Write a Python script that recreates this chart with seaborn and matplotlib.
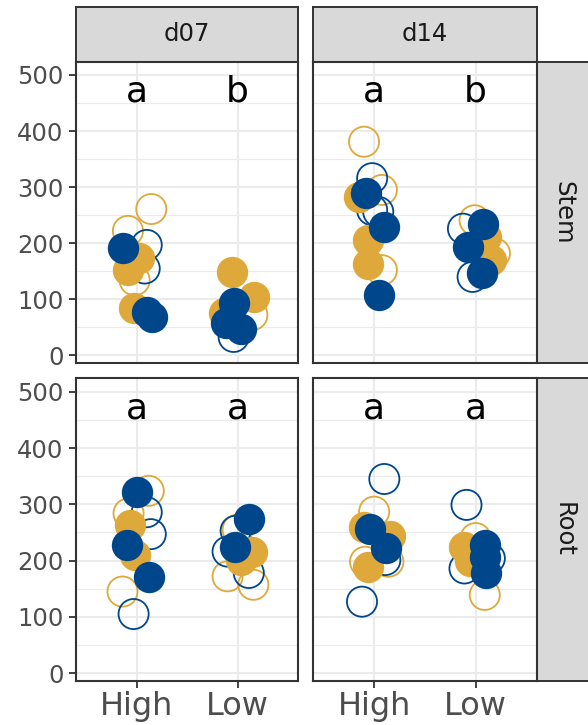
import matplotlib
matplotlib.use("Agg")
import matplotlib.pyplot as plt
from matplotlib.ticker import MultipleLocator
import pandas as pd
import seaborn as sns

sns.set_theme(style="white")
plt.rcParams["font.family"] = ["DejaVu Sans"]

days = ["d07", "d14"]
tissues = ["Stem", "Root"]
levels = ["High", "Low"]

# Each observation: (level, strain, condition, value, jitter)
stem_d07 = [
    ("High", "S1", "T", 261, 0.145), ("High", "S1", "T", 222, -0.086),
    ("High", "S1", "T", 134, -0.02),
    ("High", "S2", "T", 197, 0.10), ("High", "S2", "T", 155, 0.08),
    ("High", "S1", "C", 173, 0.02), ("High", "S1", "C", 153, -0.086),
    ("High", "S1", "C", 84, -0.03),
    ("High", "S2", "C", 191, -0.13), ("High", "S2", "C", 78, 0.106),
    ("High", "S2", "C", 69, 0.155),
    ("Low", "S1", "T", 72, 0.145), ("Low", "S2", "T", 33, -0.04),
    ("Low", "S1", "C", 148, -0.06), ("Low", "S1", "C", 104, 0.16),
    ("Low", "S1", "C", 75, -0.14),
    ("Low", "S2", "C", 93, -0.04), ("Low", "S2", "C", 57, -0.12),
    ("Low", "S2", "C", 48, 0.03),
]
stem_d14 = [
    ("High", "S1", "T", 381, -0.10), ("High", "S1", "T", 295, 0.076),
    ("High", "S1", "T", 152, 0.076),
    ("High", "S2", "T", 316, -0.02), ("High", "S2", "T", 259, -0.02),
    ("High", "S2", "T", 256, 0.04),
    ("High", "S1", "C", 283, -0.145), ("High", "S1", "C", 206, -0.06),
    ("High", "S1", "C", 163, -0.06),
    ("High", "S2", "C", 289, -0.08), ("High", "S2", "C", 229, 0.10),
    ("High", "S2", "C", 108, 0.05),
    ("Low", "S1", "T", 241, -0.01), ("Low", "S1", "T", 182, 0.19),
    ("Low", "S2", "T", 226, -0.125), ("Low", "S2", "T", 140, -0.03),
    ("Low", "S1", "C", 211, 0.10), ("Low", "S1", "C", 170, 0.15),
    ("Low", "S2", "C", 234, 0.07), ("Low", "S2", "C", 194, -0.08),
    ("Low", "S2", "C", 147, 0.06),
]
root_d07 = [
    ("High", "S1", "T", 324, 0.12), ("High", "S1", "T", 284, -0.08),
    ("High", "S1", "T", 145, -0.14),
    ("High", "S2", "T", 286, 0.10), ("High", "S2", "T", 247, 0.14),
    ("High", "S2", "T", 105, -0.03),
    ("High", "S1", "C", 263, -0.066), ("High", "S1", "C", 210, -0.02),
    ("High", "S2", "C", 322, 0.007), ("High", "S2", "C", 228, -0.10),
    ("High", "S2", "C", 170, 0.12),
    ("Low", "S1", "T", 255, 0.0), ("Low", "S1", "T", 172, -0.10),
    ("Low", "S1", "T", 157, 0.155),
    ("Low", "S2", "T", 253, -0.02), ("Low", "S2", "T", 216, -0.10),
    ("Low", "S2", "T", 178, 0.11),
    ("Low", "S1", "C", 216, 0.145), ("Low", "S1", "C", 201, 0.03),
    ("Low", "S2", "C", 274, 0.11), ("Low", "S2", "C", 224, -0.025),
]
root_d14 = [
    ("High", "S1", "T", 287, 0.0), ("High", "S1", "T", 198, 0.14),
    ("High", "S1", "T", 198, -0.09),
    ("High", "S2", "T", 345, 0.10), ("High", "S2", "T", 201, 0.11),
    ("High", "S2", "T", 127, -0.12),
    ("High", "S1", "C", 260, -0.10), ("High", "S1", "C", 243, 0.16),
    ("High", "S1", "C", 189, -0.056),
    ("High", "S2", "C", 257, -0.04), ("High", "S2", "C", 222, 0.12),
    ("Low", "S1", "T", 240, 0.0), ("Low", "S1", "T", 139, 0.09),
    ("Low", "S2", "T", 299, -0.09), ("Low", "S2", "T", 204, 0.14),
    ("Low", "S2", "T", 186, -0.11),
    ("Low", "S1", "C", 225, -0.11), ("Low", "S1", "C", 200, -0.06),
    ("Low", "S2", "C", 228, 0.09), ("Low", "S2", "C", 207, 0.09),
    ("Low", "S2", "C", 178, 0.10),
]

# Compact letter display per panel (High, Low)
letters_stem_d07 = ["a", "b"]
letters_stem_d14 = ["a", "b"]
letters_root_d07 = ["a", "a"]
letters_root_d14 = ["a", "a"]

panels = {
    ("Stem", "d07"): (stem_d07, letters_stem_d07),
    ("Stem", "d14"): (stem_d14, letters_stem_d14),
    ("Root", "d07"): (root_d07, letters_root_d07),
    ("Root", "d14"): (root_d14, letters_root_d14),
}

rows = []
for (tissue, day), (obs, _) in panels.items():
    for level, strain, cond, value, jit in obs:
        rows.append(dict(tissue=tissue, day=day, level=level, strain=strain,
                         cond=cond, value=value, jitter=jit))
df = pd.DataFrame(rows)
df["xpos"] = df["level"].map({l: i for i, l in enumerate(levels)}) + df["jitter"]

strain_colors = {"S1": "#DFA83A", "S2": "#00468B"}
draw_order = [("S1", "T"), ("S2", "T"), ("S1", "C"), ("S2", "C")]

W, H = 588, 725
fig = plt.figure(figsize=(W / 100, H / 100), dpi=100)


def box(x0, y0, x1, y1):
    return [x0 / W, 1 - y1 / H, (x1 - x0) / W, (y1 - y0) / H]


col_x = [(76, 298.3), (313.3, 536.5)]
row_y = [(61.5, 363.3), (378.3, 681)]
border = "#333333"

for ci, day in enumerate(days):
    sax = fig.add_axes(box(col_x[ci][0], 7.3, col_x[ci][1], row_y[0][0]))
    sax.set_facecolor("#D9D9D9")
    sax.set_xticks([]); sax.set_yticks([])
    for sp in sax.spines.values():
        sp.set_color(border); sp.set_linewidth(1.4)
    sax.text(0.5, 0.5, day, ha="center", va="center", fontsize=17.5,
             color="#1A1A1A", transform=sax.transAxes)

for ri, tissue in enumerate(tissues):
    sax = fig.add_axes(box(col_x[1][1], row_y[ri][0], 591, row_y[ri][1]))
    sax.set_facecolor("#D9D9D9")
    sax.set_xticks([]); sax.set_yticks([])
    for sp in sax.spines.values():
        sp.set_color(border); sp.set_linewidth(1.4)
    sax.text(0.5, 0.5, tissue, ha="center", va="center", fontsize=17.5,
             color="#1A1A1A", rotation=-90, transform=sax.transAxes)

for ri, tissue in enumerate(tissues):
    for ci, day in enumerate(days):
        ax = fig.add_axes(box(col_x[ci][0], row_y[ri][0], col_x[ci][1], row_y[ri][1]))
        ax.set_facecolor("white")
        ax.set_axisbelow(True)
        sub = df[(df.tissue == tissue) & (df.day == day)]
        for strain, cond in draw_order:
            g = sub[(sub.strain == strain) & (sub.cond == cond)]
            if g.empty:
                continue
            c = strain_colors[strain]
            if cond == "C":
                sns.scatterplot(data=g, x="xpos", y="value", color=c, s=510,
                                linewidth=0, ax=ax, legend=False, zorder=3)
            else:
                sns.scatterplot(data=g, x="xpos", y="value", color=c, s=470,
                                linewidth=1.3, ax=ax, legend=False, zorder=3)
                coll = ax.collections[-1]
                coll.set_facecolor("none")
                coll.set_edgecolor(c)
                coll.set_linewidth(1.3)
        for li, lab in enumerate(panels[(tissue, day)][1]):
            ax.text(li, 452, lab, ha="center", va="baseline", fontsize=26,
                    color="black", zorder=4)

        ax.set_xlim(-0.6, 1.6)
        ax.set_ylim(-14, 524)
        ax.set_xticks(range(len(levels)))
        ax.set_xticklabels(levels)
        ax.yaxis.set_major_locator(MultipleLocator(100))
        ax.yaxis.set_minor_locator(MultipleLocator(50))
        ax.grid(True, which="major", color="#EBEBEB", linewidth=1.5)
        ax.grid(True, which="minor", axis="y", color="#EBEBEB", linewidth=0.8)
        ax.set_xlabel(""); ax.set_ylabel("")
        for sp in ax.spines.values():
            sp.set_visible(True)
            sp.set_color(border); sp.set_linewidth(1.5)
        ax.tick_params(axis="y", which="minor", length=0)
        ax.tick_params(axis="y", which="major", length=5, width=1.3,
                       color=border, labelsize=17.5, labelcolor="#4D4D4D", pad=4,
                       left=(ci == 0), labelleft=(ci == 0))
        ax.tick_params(axis="x", which="major", length=5, width=1.3,
                       color=border, labelsize=23, labelcolor="#4D4D4D", pad=2,
                       bottom=(ri == 1), labelbottom=(ri == 1))

fig.savefig("out.png", dpi=100)
